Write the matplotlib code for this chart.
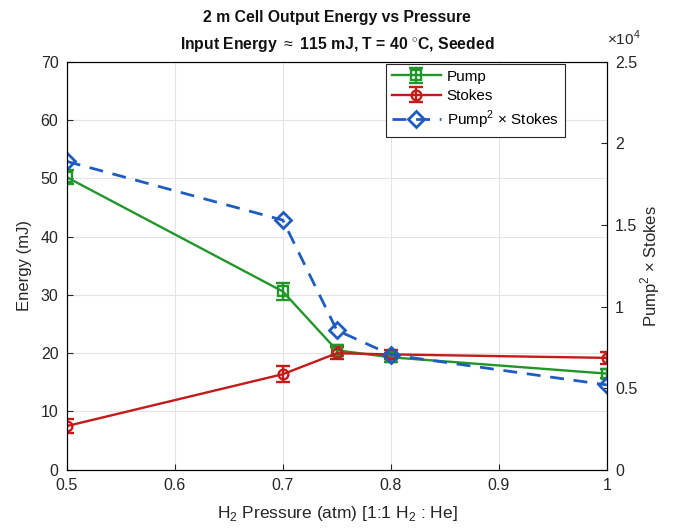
import numpy as np
import matplotlib.pyplot as plt

plt.rcParams['font.family'] = ['Liberation Sans', 'DejaVu Sans']
plt.rcParams['mathtext.fontset'] = 'custom'
plt.rcParams['mathtext.rm'] = 'Liberation Sans'

pressure = [0.5, 0.7, 0.75, 0.8, 1.0]
pump = [50.2, 30.6, 20.5, 19.3, 16.5]
pump_err = [1.2, 1.4, 0.9, 0.8, 0.8]
stokes = [7.5, 16.4, 20.0, 19.8, 19.2]
stokes_err = [1.2, 1.4, 1.0, 0.8, 1.0]
p2s = [1.89e4, 1.53e4, 0.855e4, 0.705e4, 0.52e4]

green = '#22962a'
red = '#c41a1a'
blue = '#1f5cc0'
ink = '#262626'

fig = plt.figure(figsize=(6.75, 5.29), dpi=100)
ax = fig.add_axes([0.099, 0.112, 0.800, 0.771])

h1 = ax.errorbar(pressure, pump, yerr=pump_err, color=green, marker='s', ms=7,
                 mfc='none', mew=1.7, lw=1.7, capsize=5, capthick=1.7, elinewidth=1.7, label='Pump')
h2 = ax.errorbar(pressure, stokes, yerr=stokes_err, color=red, marker='o', ms=7,
                 mfc='none', mew=1.7, lw=1.7, capsize=5, capthick=1.7, elinewidth=1.7, label='Stokes')
ax.set_xlim(0.5, 1)
ax.set_ylim(0, 70)
ax.set_xticks([0.5, 0.6, 0.7, 0.8, 0.9, 1.0])
ax.set_xticklabels(['0.5', '0.6', '0.7', '0.8', '0.9', '1'])
ax.set_yticks(range(0, 71, 10))
ax.grid(True, color='#e4e4e4', lw=0.8)
ax.set_axisbelow(True)
ax.tick_params(direction='in', labelsize=11.5, colors=ink, length=4, pad=6)
ax.set_ylabel('Energy (mJ)', fontsize=12, color=ink, labelpad=6)
ax.set_xlabel(r'H$_2$ Pressure (atm) [1:1 H$_2$ : He]', fontsize=12.5, color=ink, labelpad=8)
for s in ax.spines.values():
    s.set_color(ink)

ax2 = ax.twinx()
h3, = ax2.plot(pressure, p2s, color=blue, ls='--', lw=2, dashes=(5, 3.5), marker='D', ms=8,
               mfc='none', mew=2, label=r'Pump$^2$ × Stokes')
ax2.set_ylim(0, 2.5e4)
ax2.set_yticks([0, 0.5e4, 1e4, 1.5e4, 2e4, 2.5e4])
ax2.set_yticklabels(['0', '0.5', '1', '1.5', '2', '2.5'])
ax2.tick_params(direction='in', labelsize=11.5, colors=ink, length=4, pad=6)
ax2.set_ylabel(r'Pump$^2$ × Stokes', fontsize=12, color=ink, labelpad=1)
ax2.text(1.0, 1.035, r'$\times10^{4}$', transform=ax2.transAxes, fontsize=11,
         color=ink, ha='left', va='bottom')

ax.set_title('2 m Cell Output Energy vs Pressure\n'
             r'Input Energy $\approx$ 115 mJ, T = 40 $^{\circ}$C, Seeded',
             fontsize=11.3, fontweight='bold', color='#111111', pad=9, linespacing=1.75)

leg = ax2.legend([h1, h2, h3], ['Pump', 'Stokes', r'Pump$^2$ × Stokes'],
                 loc='upper right', bbox_to_anchor=(0.922, 0.996), borderaxespad=0,
                 fontsize=11, fancybox=False, edgecolor=ink, framealpha=1,
                 handlelength=3.2, borderpad=0.4, labelspacing=0.35, handletextpad=0.4)
leg.get_frame().set_linewidth(0.8)

fig.savefig('out.png', dpi=100)
